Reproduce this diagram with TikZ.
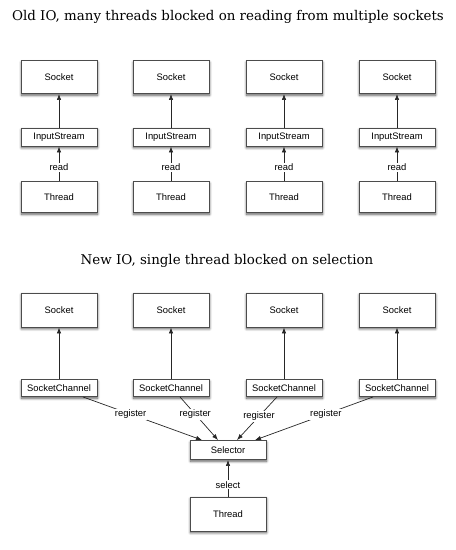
\documentclass[tikz,border=0pt]{standalone}
\usepackage{fontspec}
\setmainfont{Liberation Sans}
\newfontfamily\titlefont{DejaVu Serif}
\usetikzlibrary{arrows.meta,shadows.blur}

\tikzset{
  caixa/.style={draw=black!70, fill=white, line width=0.9pt, minimum width=76pt,
    inner sep=1pt, font=\fontsize{9.4}{11}\selectfont,
    blur shadow={shadow xshift=0.5pt, shadow yshift=-1.8pt, shadow blur radius=2.5pt,
      shadow blur steps=8, shadow opacity=65}},
  seta/.style={draw=black!85, line width=0.7pt, -{Latex[length=6pt,width=4.5pt]}},
  rotulo/.style={fill=white, inner sep=1pt, font=\fontsize{9.4}{11}\selectfont},
  titulo/.style={font=\titlefont\fontsize{13.4}{15}\selectfont}
}

\begin{document}
\begin{tikzpicture}[x=1pt, y=-1pt]
\useasboundingbox (0,0) rectangle (456,550);

%titulo antigo
\node [titulo] (t1) at (228,17) {Old IO, many threads blocked on reading from multiple sockets};

%sockets de cima
\node [caixa, minimum height=33pt] (s1) at (59,77) {Socket};
\node [caixa, minimum height=33pt] (s2) at (171,77) {Socket};
\node [caixa, minimum height=33pt] (s3) at (284,77) {Socket};
\node [caixa, minimum height=33pt] (s4) at (397,77) {Socket};

%input streams
\node [caixa, minimum height=18pt] (is1) at (59,137) {InputStream};
\node [caixa, minimum height=18pt] (is2) at (171,137) {InputStream};
\node [caixa, minimum height=18pt] (is3) at (284,137) {InputStream};
\node [caixa, minimum height=18pt] (is4) at (397,137) {InputStream};

%threads
\node [caixa, minimum height=31pt] (th1) at (59,197) {Thread};
\node [caixa, minimum height=31pt] (th2) at (171,197) {Thread};
\node [caixa, minimum height=31pt] (th3) at (284,197) {Thread};
\node [caixa, minimum height=31pt] (th4) at (397,197) {Thread};

%setas de cima
\draw [seta] (is1) -- (s1);
\draw [seta] (is2) -- (s2);
\draw [seta] (is3) -- (s3);
\draw [seta] (is4) -- (s4);
\draw [seta] (th1) -- node[rotulo, pos=0.4] {read} (is1);
\draw [seta] (th2) -- node[rotulo, pos=0.4] {read} (is2);
\draw [seta] (th3) -- node[rotulo, pos=0.4] {read} (is3);
\draw [seta] (th4) -- node[rotulo, pos=0.4] {read} (is4);

%titulo novo
\node [titulo] (t2) at (227,261) {New IO, single thread blocked on selection};

%sockets de baixo
\node [caixa, minimum height=34pt] (so1) at (59,310) {Socket};
\node [caixa, minimum height=34pt] (so2) at (171,310) {Socket};
\node [caixa, minimum height=34pt] (so3) at (284,310) {Socket};
\node [caixa, minimum height=34pt] (so4) at (397,310) {Socket};

%socket channels
\node [caixa, minimum height=17pt] (sc1) at (59,388) {SocketChannel};
\node [caixa, minimum height=17pt] (sc2) at (171,388) {SocketChannel};
\node [caixa, minimum height=17pt] (sc3) at (284,388) {SocketChannel};
\node [caixa, minimum height=17pt] (sc4) at (397,388) {SocketChannel};

%selector e thread
\node [caixa, minimum height=19pt] (sel) at (228,450) {Selector};
\node [caixa, minimum height=34pt] (th) at (228,514) {Thread};

%setas de baixo
\draw [seta] (sc1) -- (so1);
\draw [seta] (sc2) -- (so2);
\draw [seta] (sc3) -- (so3);
\draw [seta] (sc4) -- (so4);
\draw [seta] ([xshift=24pt]sc1.south) -- node[rotulo, pos=0.4] {register} ([xshift=-26pt]sel.north);
\draw [seta] ([xshift=9pt]sc2.south) -- node[rotulo, pos=0.4] {register} ([xshift=-10pt]sel.north);
\draw [seta] ([xshift=-7pt]sc3.south) -- node[rotulo, pos=0.45] {register} ([xshift=9pt]sel.north);
\draw [seta] ([xshift=-24pt]sc4.south) -- node[rotulo, pos=0.4] {register} ([xshift=27pt]sel.north);
\draw [seta] (th) -- node[rotulo, pos=0.32] {select} (sel);

\end{tikzpicture}
\end{document}
